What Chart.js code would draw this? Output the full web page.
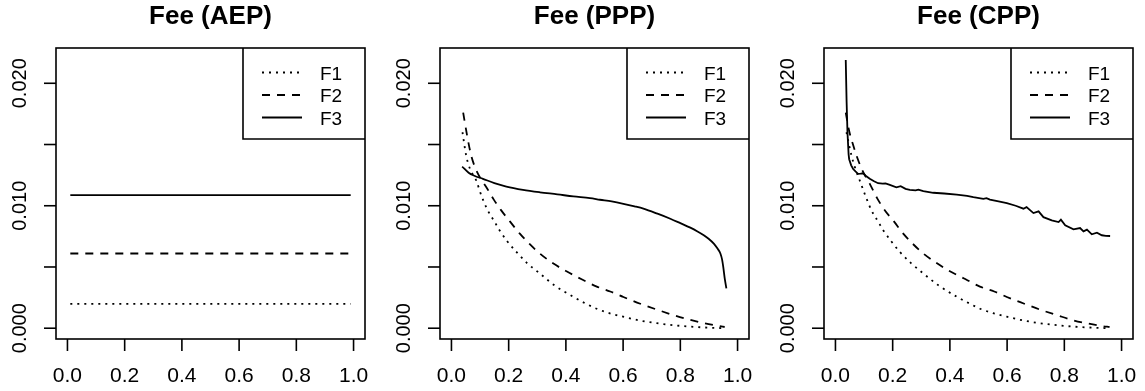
<!DOCTYPE html>
<html>
<head>
<meta charset="utf-8">
<script src="https://cdn.jsdelivr.net/npm/chart.js@4"></script>
<style>
  body { margin: 0; background: #fff; }
  #wrap { position: relative; width: 1145px; height: 391px; background: #fff; }
  .panel { position: absolute; top: 0; width: 377px; height: 391px; }
  canvas { display: block; }
</style>
</head>
<body>
<div id="wrap">
  <div class="panel" style="left:0px"><canvas id="c0" width="377" height="391"></canvas></div>
  <div class="panel" style="left:384px"><canvas id="c1" width="377" height="391"></canvas></div>
  <div class="panel" style="left:768px"><canvas id="c2" width="377" height="391"></canvas></div>
</div>
<script>
// パネルのタイトルと凡例名
const panelTitles = ['Fee (AEP)', 'Fee (PPP)', 'Fee (CPP)'];
const seriesNames = ['F1', 'F2', 'F3'];

// 軸目盛
const xTicks = [0, 0.2, 0.4, 0.6, 0.8, 1.0];
const xTickLabels = ['0.0', '0.2', '0.4', '0.6', '0.8', '1.0'];
const yTicks = [0, 0.005, 0.010, 0.015, 0.020];
const yTickLabels = ['0.000', '', '0.010', '', '0.020'];

// AEP: 一定値
const aepX = [0.01, 0.99];
const aepF1 = [0.00198, 0.00198];
const aepF2 = [0.0061, 0.0061];
const aepF3 = [0.01086, 0.01086];

// PPP
const pppF1X = [0.0385, 0.0515, 0.065, 0.0866, 0.105, 0.127, 0.148, 0.168, 0.195, 0.227, 0.265, 0.309, 0.360, 0.426, 0.470, 0.513, 0.556, 0.600, 0.660, 0.718, 0.775, 0.835, 0.895, 0.958];
const pppF1Y = [0.0160, 0.0141, 0.0130, 0.01206, 0.0108, 0.00962, 0.0088, 0.0080, 0.0071, 0.00623, 0.0053, 0.00447, 0.0035, 0.00257, 0.0020, 0.00154, 0.0012, 0.00094, 0.00062, 0.00041, 0.00025, 0.00013, 0.00005, 0.0];
const pppF2X = [0.041, 0.055, 0.069, 0.085, 0.100, 0.122, 0.148, 0.174, 0.205, 0.239, 0.272, 0.309, 0.355, 0.402, 0.455, 0.508, 0.555, 0.601, 0.660, 0.718, 0.775, 0.835, 0.885, 0.934, 0.955];
const pppF2Y = [0.0176, 0.0157, 0.0141, 0.0130, 0.0123, 0.01151, 0.0105, 0.00962, 0.0087, 0.00772, 0.0069, 0.0061, 0.0053, 0.00465, 0.0040, 0.0034, 0.0030, 0.00255, 0.0020, 0.00152, 0.00108, 0.00068, 0.0004, 0.00018, 0.0001];
const pppF3X = [0.0375, 0.060, 0.080, 0.110, 0.150, 0.192, 0.250, 0.309, 0.370, 0.426, 0.484, 0.519, 0.560, 0.601, 0.640, 0.671, 0.720, 0.765, 0.800, 0.835, 0.860, 0.882, 0.900, 0.917, 0.930, 0.940, 0.946, 0.950, 0.955, 0.961];
const pppF3Y = [0.0132, 0.0127, 0.01245, 0.0122, 0.01185, 0.01157, 0.0113, 0.0111, 0.01093, 0.01076, 0.01062, 0.01049, 0.01035, 0.01016, 0.00995, 0.00976, 0.00935, 0.00894, 0.00858, 0.00821, 0.0079, 0.00759, 0.00728, 0.00691, 0.0065, 0.0061, 0.0056, 0.00501, 0.0041, 0.00325];

// CPP
const cppF1X = [0.0385, 0.056, 0.070, 0.085, 0.105, 0.126, 0.147, 0.167, 0.195, 0.225, 0.265, 0.307, 0.360, 0.424, 0.470, 0.511, 0.556, 0.599, 0.660, 0.715, 0.775, 0.832, 0.895, 0.960];
const cppF1Y = [0.0160, 0.0141, 0.0130, 0.01206, 0.0108, 0.00962, 0.0088, 0.0080, 0.0071, 0.00623, 0.0053, 0.00447, 0.0035, 0.00257, 0.0020, 0.00154, 0.0012, 0.00094, 0.00062, 0.00041, 0.00025, 0.00013, 0.00005, 0.0];
const cppF2X = [0.036, 0.048, 0.060, 0.0735, 0.090, 0.105, 0.120, 0.146, 0.173, 0.205, 0.237, 0.270, 0.307, 0.355, 0.400, 0.455, 0.505, 0.555, 0.599, 0.660, 0.715, 0.775, 0.832, 0.885, 0.931, 0.958];
const cppF2Y = [0.0176, 0.0161, 0.0151, 0.0141, 0.0131, 0.0124, 0.01179, 0.0106, 0.00962, 0.0087, 0.00772, 0.0069, 0.0061, 0.0053, 0.00465, 0.0040, 0.0034, 0.0030, 0.00255, 0.0020, 0.00152, 0.00106, 0.00064, 0.00037, 0.00018, 0.0001];
const cppF3X = [0.036, 0.039, 0.042, 0.046, 0.048, 0.055, 0.062, 0.070, 0.079, 0.088, 0.097, 0.108, 0.120, 0.135, 0.149, 0.165, 0.175, 0.190, 0.213, 0.228, 0.245, 0.260, 0.280, 0.290, 0.307, 0.342, 0.380, 0.424, 0.460, 0.482, 0.517, 0.528, 0.540, 0.570, 0.599, 0.630, 0.657, 0.668, 0.692, 0.710, 0.727, 0.756, 0.780, 0.788, 0.803, 0.832, 0.855, 0.867, 0.879, 0.896, 0.914, 0.931, 0.945, 0.960];
const cppF3Y = [0.0219, 0.0185, 0.0160, 0.0142, 0.0138, 0.0133, 0.0130, 0.0128, 0.0126, 0.01262, 0.01265, 0.0124, 0.0122, 0.0120, 0.01184, 0.0118, 0.01182, 0.0117, 0.01151, 0.0116, 0.01138, 0.0113, 0.01125, 0.01132, 0.01119, 0.01106, 0.0110, 0.0109, 0.0108, 0.0107, 0.01057, 0.01062, 0.0105, 0.01035, 0.01021, 0.0100, 0.00976, 0.00989, 0.0094, 0.00954, 0.00907, 0.0088, 0.00867, 0.00886, 0.0084, 0.00807, 0.00818, 0.00791, 0.00805, 0.00767, 0.0078, 0.00759, 0.00754, 0.00753];

// 線種 (R の lty=3,2,1 に相当)
const dashes = [[2, 5], [8, 7], []];
const FONT = '"Liberation Sans", Arial, Helvetica, sans-serif';

const toPoints = (xs, ys) => xs.map((x, i) => ({ x: x, y: ys[i] }));

const panelData = [
    [toPoints(aepX, aepF1), toPoints(aepX, aepF2), toPoints(aepX, aepF3)],
    [toPoints(pppF1X, pppF1Y), toPoints(pppF2X, pppF2Y), toPoints(pppF3X, pppF3Y)],
    [toPoints(cppF1X, cppF1Y), toPoints(cppF2X, cppF2Y), toPoints(cppF3X, cppF3Y)]
];

// R 風の枠・目盛・タイトル・凡例を描くプラグイン
const rStyle = {
    id: 'rStyle',
    afterDraw(chart) {
        const ctx = chart.ctx;
        const a = chart.chartArea;
        const xs = chart.scales.x, ys = chart.scales.y;
        ctx.save();
        ctx.strokeStyle = '#000';
        ctx.fillStyle = '#000';
        ctx.lineWidth = 1.6;
        ctx.setLineDash([]);
        ctx.strokeRect(a.left, a.top, a.right - a.left, a.bottom - a.top);

        // x 軸
        ctx.font = '21px ' + FONT;
        ctx.textAlign = 'center';
        ctx.textBaseline = 'alphabetic';
        xTicks.forEach((v, i) => {
            const px = xs.getPixelForValue(v);
            ctx.beginPath();
            ctx.moveTo(px, a.bottom);
            ctx.lineTo(px, a.bottom + 12);
            ctx.stroke();
            ctx.fillText(xTickLabels[i], px, 382);
        });

        // y 軸
        ctx.font = '20px ' + FONT;
        yTicks.forEach((v, i) => {
            const py = ys.getPixelForValue(v);
            ctx.beginPath();
            ctx.moveTo(a.left, py);
            ctx.lineTo(a.left - 12, py);
            ctx.stroke();
            if (yTickLabels[i]) {
                ctx.save();
                ctx.translate(a.left - 30, py);
                ctx.rotate(-Math.PI / 2);
                ctx.fillText(yTickLabels[i], 0, 0);
                ctx.restore();
            }
        });

        // タイトル
        ctx.font = 'bold 26px ' + FONT;
        ctx.fillText(chart.options.plugins.rTitle, (a.left + a.right) / 2, 24);

        // 凡例
        const lx = a.left + 187, lb = 139;
        ctx.beginPath();
        ctx.moveTo(lx, a.top);
        ctx.lineTo(lx, lb);
        ctx.lineTo(a.right, lb);
        ctx.stroke();
        ctx.font = '19px ' + FONT;
        ctx.textAlign = 'left';
        chart.data.datasets.forEach((ds, i) => {
            const cy = a.top + 24.5 + i * 22.5;
            ctx.lineWidth = ds.borderWidth;
            ctx.setLineDash(ds.borderDash);
            ctx.beginPath();
            ctx.moveTo(lx + 19, cy);
            ctx.lineTo(lx + 59, cy);
            ctx.stroke();
            ctx.setLineDash([]);
            ctx.fillText(ds.label, lx + 77, cy + 7);
        });
        ctx.restore();
    }
};

panelData.forEach((series, p) => {
    const jagged = (i) => p === 2 && i === 2;
    new Chart(document.getElementById('c' + p), {
        type: 'line',
        data: {
            datasets: series.map((pts, i) => ({
                label: seriesNames[i],
                data: pts,
                borderColor: '#000',
                borderWidth: 1.8,
                borderDash: dashes[i],
                pointRadius: 0,
                fill: false,
                tension: jagged(i) ? 0 : 0.4,
                cubicInterpolationMode: jagged(i) ? 'default' : 'monotone'
            }))
        },
        options: {
            responsive: false,
            animation: false,
            devicePixelRatio: 1,
            layout: { padding: { left: 56, right: 12, top: 48, bottom: 52 } },
            scales: {
                x: { type: 'linear', min: -0.04, max: 1.04, display: false },
                y: { type: 'linear', min: -0.00088, max: 0.02288, display: false }
            },
            plugins: {
                legend: { display: false },
                tooltip: { enabled: false },
                rTitle: panelTitles[p]
            }
        },
        plugins: [rStyle]
    });
});
</script>
</body>
</html>
